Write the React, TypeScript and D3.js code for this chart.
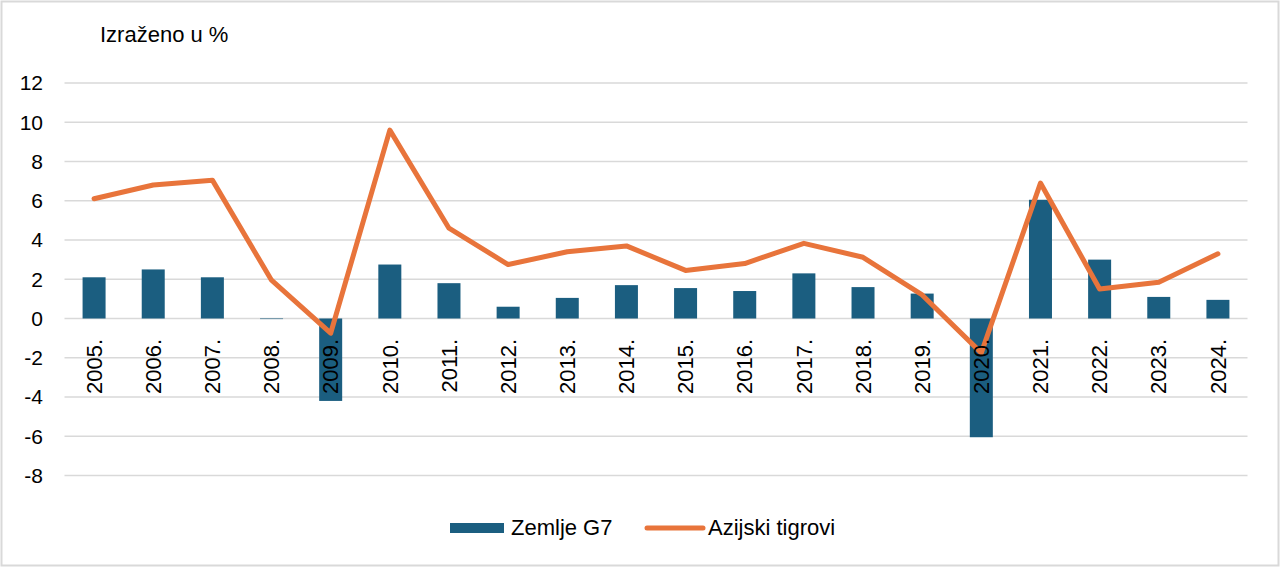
import { useRef, useEffect } from 'react';
import * as d3 from 'd3';

const years = [
  '2005.', '2006.', '2007.', '2008.', '2009.', '2010.', '2011.', '2012.', '2013.', '2014.',
  '2015.', '2016.', '2017.', '2018.', '2019.', '2020.', '2021.', '2022.', '2023.', '2024.',
];
const g7 = [2.1, 2.5, 2.1, -0.03, -4.2, 2.75, 1.8, 0.6, 1.05, 1.7, 1.55, 1.4, 2.3, 1.6, 1.27, -6.05, 6.05, 3.0, 1.1, 0.95];
const tigers = [6.1, 6.8, 7.05, 1.95, -0.75, 9.6, 4.6, 2.75, 3.4, 3.7, 2.45, 2.8, 3.83, 3.12, 1.2, -1.75, 6.9, 1.5, 1.85, 3.3];
const yTicks = [-8, -6, -4, -2, 0, 2, 4, 6, 8, 10, 12];

const W = 1280;
const H = 567;
const BLUE = '#1b5e80';
const ORANGE = '#e8743b';
const FONT = '"Liberation Sans", Arial, sans-serif';

export default function App() {
  const svgRef = useRef<SVGSVGElement>(null);

  useEffect(() => {
    const svg = d3.select(svgRef.current);
    svg.selectAll('*').remove();

    const x = d3.scaleBand<string>().domain(years).range([64.5, 1247.5]).paddingInner(0).paddingOuter(0);
    const y = d3.scaleLinear().domain([-8, 12]).range([475.5, 83]);
    const barW = 23;

    // Background + frame
    svg.append('rect').attr('width', W).attr('height', H).attr('fill', '#fff');
    svg
      .append('rect')
      .attr('x', 1.5)
      .attr('y', 1.5)
      .attr('width', W - 3)
      .attr('height', H - 3)
      .attr('fill', 'none')
      .attr('stroke', '#d9d9d9')
      .attr('stroke-width', 2);

    // Grid
    svg
      .append('g')
      .selectAll('line')
      .data(yTicks)
      .join('line')
      .attr('x1', 64.5)
      .attr('x2', 1247.5)
      .attr('y1', (d) => y(d))
      .attr('y2', (d) => y(d))
      .attr('stroke', '#d9d9d9')
      .attr('stroke-width', 1.5);

    // Y tick labels
    svg
      .append('g')
      .selectAll('text')
      .data(yTicks)
      .join('text')
      .attr('x', 43)
      .attr('y', (d) => y(d))
      .attr('dy', '0.35em')
      .attr('text-anchor', 'end')
      .attr('font-family', FONT)
      .attr('font-size', 21)
      .attr('fill', '#000')
      .text((d) => String(d));

    // Title
    svg
      .append('text')
      .attr('x', 100)
      .attr('y', 42)
      .attr('font-family', FONT)
      .attr('font-size', 22)
      .attr('fill', '#000')
      .text('Izraženo u %');

    // Bars
    svg
      .append('g')
      .selectAll('rect')
      .data(g7)
      .join('rect')
      .attr('x', (_, i) => x(years[i])! + x.bandwidth() / 2 - barW / 2)
      .attr('width', barW)
      .attr('y', (d) => y(Math.max(0, d)))
      .attr('height', (d) => Math.abs(y(d) - y(0)))
      .attr('fill', BLUE);

    // Line
    const line = d3
      .line<number>()
      .x((_, i) => x(years[i])! + x.bandwidth() / 2)
      .y((d) => y(d));
    svg
      .append('path')
      .datum(tigers)
      .attr('d', line)
      .attr('fill', 'none')
      .attr('stroke', ORANGE)
      .attr('stroke-width', 5)
      .attr('stroke-linejoin', 'round')
      .attr('stroke-linecap', 'round');

    // Year labels (rotated), drawn over bars and line
    svg
      .append('g')
      .selectAll('text')
      .data(years)
      .join('text')
      .attr('transform', (d) => `translate(${x(d)! + x.bandwidth() / 2},339) rotate(-90)`)
      .attr('dy', '0.35em')
      .attr('text-anchor', 'end')
      .attr('font-family', FONT)
      .attr('font-size', 22)
      .attr('fill', '#000')
      .text((d) => d);

    // Legend
    const lg = svg.append('g').attr('font-family', FONT).attr('font-size', 22).attr('fill', '#000');
    lg.append('rect').attr('x', 450).attr('y', 523).attr('width', 54).attr('height', 10).attr('fill', BLUE);
    lg.append('text').attr('x', 511).attr('y', 527.5).attr('dy', '0.35em').text('Zemlje G7');
    lg.append('line')
      .attr('x1', 647)
      .attr('x2', 703)
      .attr('y1', 528)
      .attr('y2', 528)
      .attr('stroke', ORANGE)
      .attr('stroke-width', 5)
      .attr('stroke-linecap', 'round');
    lg.append('text').attr('x', 708).attr('y', 527.5).attr('dy', '0.35em').text('Azijski tigrovi');
  }, []);

  return (
    <div style={{ position: 'absolute', left: 0, top: 0 }}>
      <svg ref={svgRef} width={W} height={H} style={{ display: 'block' }} />
    </div>
  );
}
